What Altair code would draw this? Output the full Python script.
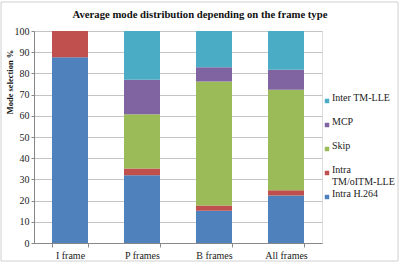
import altair as alt
import pandas as pd

# Frame types on the x axis
frames = ["I frame", "P frames", "B frames", "All frames"]

# Coding modes, bottom of the stack first
modes = ["Intra H.264", "Intra TM/oITM-LLE", "Skip", "MCP", "Inter TM-LLE"]
colors = ["#4F81BD", "#C0504D", "#9BBB59", "#8064A2", "#4BACC6"]

# Share of each mode (%) per frame type
intra_h264 = [87.6, 32.0, 15.2, 22.4]
intra_tm = [12.4, 3.2, 2.5, 2.5]
skip = [0.0, 25.5, 58.5, 47.4]
mcp = [0.0, 16.3, 6.7, 9.4]
inter_tm = [0.0, 23.0, 17.1, 18.3]

series = [intra_h264, intra_tm, skip, mcp, inter_tm]
rows = []
for rank, (mode, vals) in enumerate(zip(modes, series)):
    for frame, v in zip(frames, vals):
        rows.append({"frame": frame, "mode": mode, "value": v, "rank": rank})
df = pd.DataFrame(rows)

serif = "Liberation Serif"

# Legend lists the top of the stack first
legend_order = modes[::-1]
legend_colors = colors[::-1]

bars = (
    alt.Chart(df)
    .mark_bar(size=36)
    .encode(
        x=alt.X(
            "frame:N",
            sort=frames,
            title=None,
            scale=alt.Scale(paddingInner=0.5, paddingOuter=0.25),
            axis=alt.Axis(
                labelAngle=0,
                labelFont=serif,
                labelFontSize=10,
                labelColor="#222222",
                labelPadding=3,
                tickBand="extent",
                tickExtra=True,
                tickSize=4,
                tickColor="#888888",
                domainColor="#888888",
                grid=False,
            ),
        ),
        y=alt.Y(
            "value:Q",
            stack="zero",
            title="Mode selection %",
            scale=alt.Scale(domain=[0, 100], nice=False),
            axis=alt.Axis(
                values=list(range(0, 101, 10)),
                labelFont=serif,
                labelFontSize=10,
                labelColor="#222222",
                labelPadding=2,
                tickSize=3,
                tickColor="#888888",
                domainColor="#888888",
                gridColor="#C4C4C4",
                titleFont=serif,
                titleFontSize=8.5,
                titleFontWeight="bold",
                titleColor="#111111",
                titleAngle=270,
                titleAlign="center",
                titleBaseline="middle",
                titleX=-25,
                titleY=50.5,
            ),
        ),
        color=alt.Color(
            "mode:N",
            scale=alt.Scale(domain=legend_order, range=legend_colors),
            legend=alt.Legend(
                title=None,
                orient="none",
                legendX=288,
                legendY=65,
                symbolType="square",
                symbolSize=20,
                symbolStrokeWidth=0,
                labelFont=serif,
                labelFontSize=10,
                labelColor="#222222",
                labelBaseline="alphabetic",
                labelOffset=0,
                labelExpr="datum.label == 'Intra TM/oITM-LLE' ? ['Intra', 'TM/oITM-LLE'] : datum.label",
                rowPadding=2,
                gridAlign="all",
            ),
        ),
        order=alt.Order("rank:Q", sort="ascending"),
    )
)

# Light outline around the whole chart area
frame_box = (
    alt.Chart(pd.DataFrame({"k": [0]}))
    .mark_rect(fillOpacity=0, stroke="#D0D0D0", strokeWidth=1)
    .encode(
        x=alt.value(-33),
        x2=alt.value(364),
        y=alt.value(-29),
        y2=alt.value(230),
    )
)

chart = (
    alt.layer(bars, frame_box)
    .properties(
        width=288,
        height=212,
        autosize=alt.AutoSizeParams(type="none"),
        padding={"left": 34, "top": 31, "right": 78, "bottom": 20},
        title=alt.TitleParams(
            "Average mode distribution depending on the frame type",
            font=serif,
            fontSize=10.7,
            fontWeight="bold",
            color="#111111",
            anchor="middle",
            frame="group",
            dx=22,
            offset=-19,
        ),
    )
    .configure_view(stroke=None)
    .configure(background="white", font=serif)
)

chart.save("out.html", embed_options={"renderer": "svg", "actions": False})
